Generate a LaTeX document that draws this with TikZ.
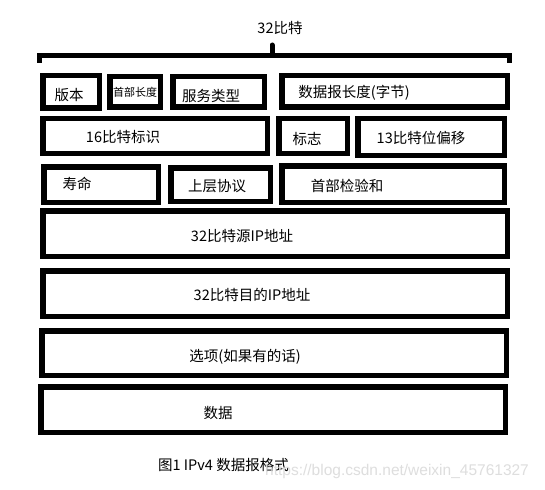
\documentclass[tikz,border=0pt]{standalone}
\usepackage{fontspec}
\setmainfont{Noto Sans CJK SC}
\newfontfamily\wmfont{Liberation Sans}
\begin{document}
\begin{tikzpicture}[x=1pt,y=-1pt,
  box/.style={draw=black,line width=5.5pt,fill=white,inner sep=0pt,outer sep=0pt,rectangle},
  lbl/.style={inner sep=0pt,font=\fontsize{14.5}{16}\selectfont,anchor=center},
  sml/.style={inner sep=0pt,font=\fontsize{11}{12}\selectfont,anchor=center},
  brk/.style={line width=5pt,line join=miter}]
\useasboundingbox[fill=white] (0,0) rectangle (545,489);
% bracket
\coordinate (bl) at (39.5,63);
\coordinate (blt) at (39.5,55.5);
\coordinate (brt) at (509.5,55.5);
\coordinate (br) at (509.5,63);
\coordinate (bm) at (272,55.5);
\coordinate (bmt) at (272,45);
\draw[brk] (bl) -- (blt) -- (brt) -- (br);
\draw[line width=5pt,line cap=round] (bm) -- (bmt);
\node[lbl] (t32) at (280,28) {32比特};
% row 1
\node[box,minimum width=56.5pt,minimum height=32.5pt] (ver) at (71,92) {};
\node[box,minimum width=50.5pt,minimum height=30.5pt] (ihl) at (135,92) {};
\node[box,minimum width=91.5pt,minimum height=30.5pt] (tos) at (218.5,92) {};
\node[box,minimum width=225.5pt,minimum height=31.5pt] (len) at (394.5,91.5) {};
\node[lbl] (tver) at (69,95) {版本};
\node[sml] (tihl) at (135,92) {首部长度};
\node[lbl] (ttos) at (211,96) {服务类型};
\node[lbl] (tlen) at (354,93) {数据报长度(字节)};
% row 2
\node[box,minimum width=224.5pt,minimum height=34.5pt] (id) at (155,136) {};
\node[box,minimum width=68.5pt,minimum height=34.5pt] (flag) at (313,136) {};
\node[box,minimum width=146.5pt,minimum height=36.5pt] (off) at (431,137) {};
\node[lbl] (tid) at (123,137) {16比特标识};
\node[lbl] (tflag) at (307,139) {标志};
\node[lbl] (toff) at (421,138) {13比特位偏移};
% row 3
\node[box,minimum width=114.5pt,minimum height=35.5pt] (ttl) at (101,184.5) {};
\node[box,minimum width=99.5pt,minimum height=33.5pt] (proto) at (220.5,184.5) {};
\node[box,minimum width=222.5pt,minimum height=36.5pt] (csum) at (393,184) {};
\node[lbl] (tttl) at (77,184) {寿命};
\node[lbl] (tproto) at (217,186) {上层协议};
\node[lbl] (tcsum) at (347,186) {首部检验和};
% rows 4-7
\node[box,minimum width=464.5pt,minimum height=45.5pt] (src) at (275,233.5) {};
\node[box,minimum width=464.5pt,minimum height=45.5pt] (dst) at (275,293.5) {};
\node[box,minimum width=464.5pt,minimum height=44.5pt] (opt) at (274,353) {};
\node[box,minimum width=464.5pt,minimum height=45.5pt] (data) at (273,409.5) {};
\node[lbl] (tsrc) at (242,236) {32比特源IP地址};
\node[lbl] (tdst) at (252,295) {32比特目的IP地址};
\node[lbl] (topt) at (245,357) {选项(如果有的话)};
\node[lbl] (tdata) at (218,413) {数据};
% caption and watermark
\node[lbl,anchor=west] (cap) at (158,465) {图1 IPv4 数据报格式};
\node[inner sep=0pt,anchor=west,text=black!13,font=\wmfont\fontsize{15.5}{17}\selectfont] (wm) at (265,471) {https://blog.csdn.net/weixin\_45761327};
\end{tikzpicture}
\end{document}
